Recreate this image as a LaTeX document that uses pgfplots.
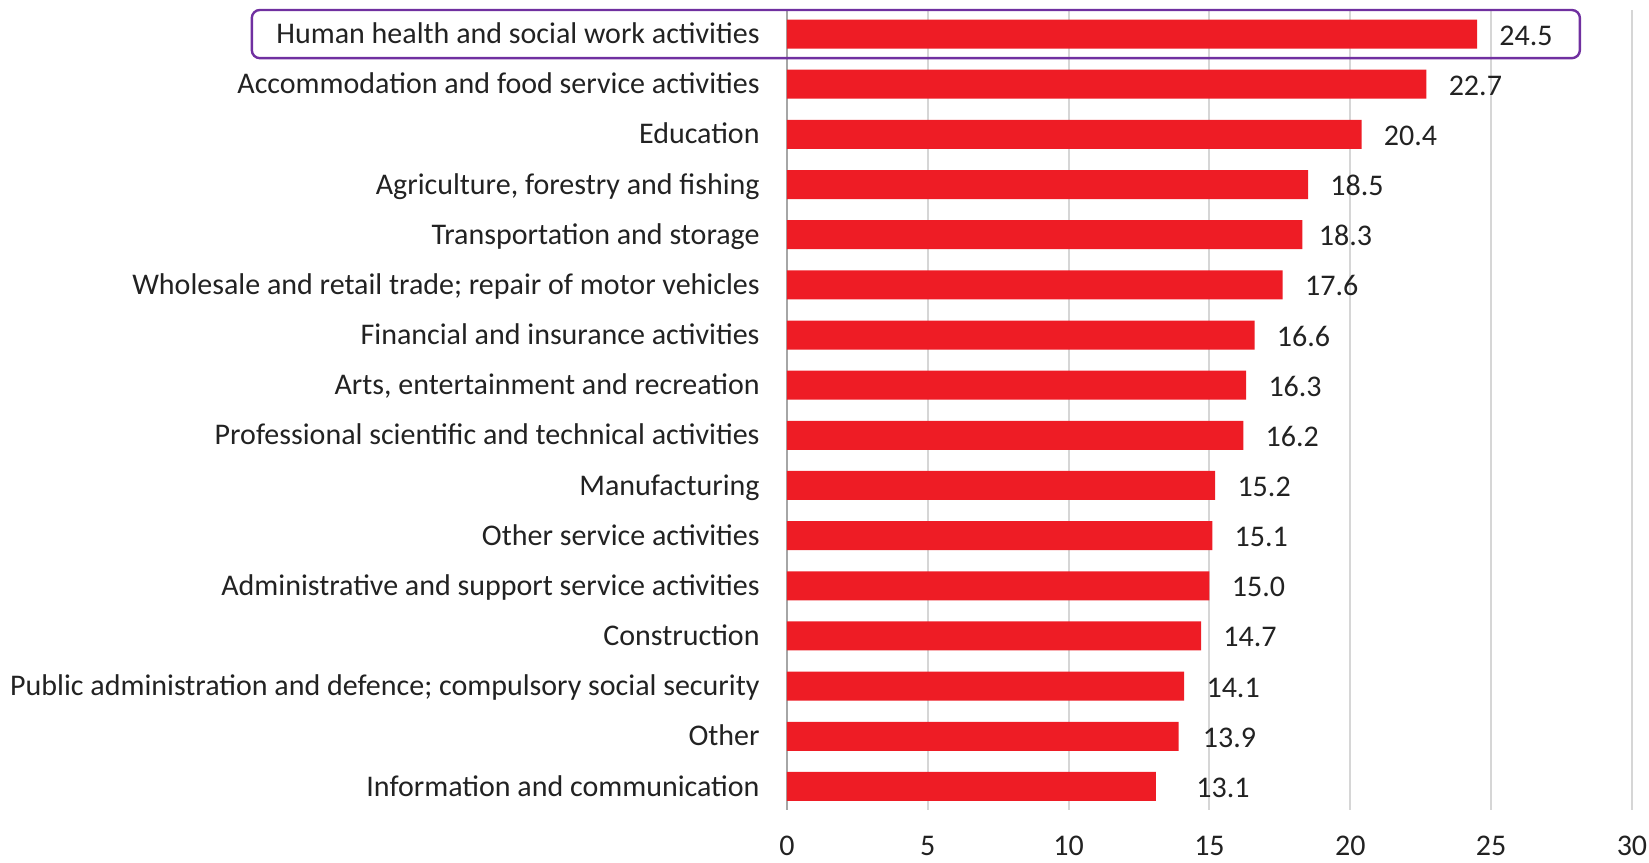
\documentclass[border=0pt]{standalone}
\usepackage{pgfplots}
\usepackage{pgfplotstable}
\pgfplotsset{compat=1.18}
\usepackage{fontspec}
\setmainfont{Carlito}

\definecolor{barred}{HTML}{EE1C25}
\definecolor{boxpurple}{HTML}{7030A0}
\definecolor{gridgray}{HTML}{D6D6D6}
\definecolor{axisgray}{HTML}{A6A6A6}
\definecolor{txt}{HTML}{222222}

% value, row (top = 0), extra label offset in pt
\pgfplotstableread{
val  pos  dx
24.5 0    0
22.7 1    0
20.4 2    0
18.5 3    0
18.3 4    -3
17.6 5    0
16.6 6    0
16.3 7    0
16.2 8    0
15.2 9    0
15.1 10   0
15.0 11   0
14.7 12   0
14.1 13   0
13.9 14   1
13.1 15   9
}\shares

\begin{document}
\begin{tikzpicture}
    \begin{axis}[
        scale only axis,
        width=422.5pt, height=400pt,
        xbar, bar width=14.5pt,
        xmin=0, xmax=30,
        ymin=-0.48, ymax=15.47,
        y dir=reverse,
        xtick={0,5,...,30},
        ytick={0,...,15},
        yticklabels={
            Human health and social work activities,
            Accommodation and food service activities,
            Education,
            {Agriculture, forestry and fishing},
            Transportation and storage,
            Wholesale and retail trade; repair of motor vehicles,
            Financial and insurance activities,
            {Arts, entertainment and recreation},
            Professional scientific and technical activities,
            Manufacturing,
            Other service activities,
            Administrative and support service activities,
            Construction,
            Public administration and defence; compulsory social security,
            Other,
            Information and communication},
        axis x line*=bottom,
        axis y line*=left,
        x axis line style={draw=none},
        y axis line style={draw=axisgray, line width=1pt},
        xmajorgrids,
        major grid style={draw=gridgray, line width=1pt},
        major tick length=0pt,
        tick label style={font=\fontsize{15}{17}\selectfont, text=txt, inner sep=0pt},
        yticklabel style={anchor=base east, xshift=-13.5pt, yshift=-4.8pt},
        xticklabel style={anchor=north, yshift=-13pt},
        /pgf/number format/assume math mode=true,
        clip=false,
    ]
        \addplot[draw=none, fill=barred,
            visualization depends on={\thisrow{dx} \as \dx},
            nodes near coords={\pgfmathprintnumber[fixed,fixed zerofill,precision=1]{\pgfplotspointmeta}},
            every node near coord/.append style={font=\fontsize{15}{17}\selectfont, text=txt,
                anchor=base west, inner sep=0pt, xshift=11pt+\dx pt, yshift=-5.5pt},
        ] table[x=val, y=pos, meta=val] {\shares};
        \draw[boxpurple, line width=1.2pt, rounded corners=4pt]
            (axis cs:-19.0,-0.48) rectangle (axis cs:28.15,0.48);
    \end{axis}
    \path (current axis.south west) ++(-393.5pt,-26pt) rectangle ++(824.5pt,431pt);
\end{tikzpicture}
\end{document}
